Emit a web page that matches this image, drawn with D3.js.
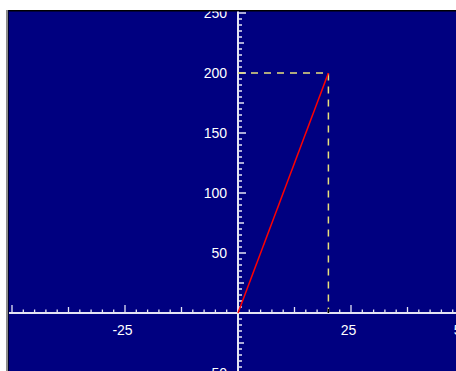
<!DOCTYPE html>
<html><head><meta charset="utf-8">
<script src="https://cdn.jsdelivr.net/npm/d3@7"></script>
<style>html,body{margin:0;padding:0;background:#fff;overflow:hidden}</style>
</head><body>
<script>
// Data
const linePoints = [[0, 0], [20, 200]];
const guidePoints = [[0, 200], [20, 200], [20, 0]];
const xTickLabels = [-25, 25, 50];
const yTickLabels = [50, 100, 150, 200, 250, -50];

const W = 456, H = 371;
const svg = d3.select("body").append("svg").attr("width", W).attr("height", H);

svg.append("defs").append("clipPath").attr("id", "plotclip")
  .append("rect").attr("x", 9).attr("y", 11.5).attr("width", W).attr("height", H);

// frame
svg.append("rect").attr("x", 0).attr("y", 0).attr("width", W).attr("height", H).attr("fill", "#fff");
svg.append("rect").attr("x", 6).attr("y", 10).attr("width", 2).attr("height", H).attr("fill", "#8c8c8c");
svg.append("rect").attr("x", 8).attr("y", 10).attr("width", W).attr("height", H).attr("fill", "#000080");
svg.append("rect").attr("x", 8).attr("y", 10).attr("width", W).attr("height", 1.5).attr("fill", "#000000");
svg.append("rect").attr("x", 8).attr("y", 10).attr("width", 1).attr("height", H).attr("fill", "#000030");

const plot = svg.append("g").attr("clip-path", "url(#plotclip)");

// scales
const x = d3.scaleLinear().domain([-51, 50]).range([238 - 51 * 4.52, 238 + 50 * 4.52]);
const y = d3.scaleLinear().domain([-50, 250]).range([313 + 60, 313 - 300]);

const axisColor = "#e4e4f4";
const x0 = x(0), y0 = y(0);

// X axis
const gx = plot.append("g");
gx.append("line").attr("x1", 9).attr("x2", W).attr("y1", y0).attr("y2", y0)
  .attr("stroke", axisColor).attr("stroke-width", 2);
const xTicks = d3.range(-50, 52.5, 2.5);
xTicks.forEach(v => {
  if (v === 0) return;
  const len = (v % 25 === 0) ? 8 : (v % 12.5 === 0 ? 6 : 3.5);
  gx.append("line").attr("x1", x(v)).attr("x2", x(v)).attr("y1", y0).attr("y2", y0 - len)
    .attr("stroke", axisColor).attr("stroke-width", 1.3);
});
gx.selectAll("text").data(xTickLabels).join("text")
  .attr("x", d => x(d) - 2.5).attr("y", y0 + 22)
  .attr("text-anchor", "middle").attr("fill", "#fff")
  .attr("font-family", "Liberation Sans, Arial, sans-serif").attr("font-size", 14)
  .text(d => d);

// Y axis
const gy = plot.append("g");
gy.append("line").attr("x1", x0).attr("x2", x0).attr("y1", 11).attr("y2", H)
  .attr("stroke", axisColor).attr("stroke-width", 2);
const yTicks = d3.range(-50, 255, 5);
yTicks.forEach(v => {
  if (v === 0) return;
  const len = (v % 50 === 0) ? 8 : (v % 25 === 0 ? 6 : 4);
  gy.append("line").attr("x1", x0).attr("x2", x0 + len).attr("y1", y(v)).attr("y2", y(v))
    .attr("stroke", axisColor).attr("stroke-width", 1.3);
});
gy.selectAll("text").data(yTickLabels).join("text")
  .attr("x", x0 - 11).attr("y", d => y(d) + 5)
  .attr("text-anchor", "end").attr("fill", "#fff")
  .attr("font-family", "Liberation Sans, Arial, sans-serif").attr("font-size", 14)
  .text(d => d);

// guide dashed
const lineGen = d3.line().x(d => x(d[0])).y(d => y(d[1]));
plot.append("path").attr("d", lineGen(guidePoints)).attr("fill", "none")
  .attr("stroke", "#e8e07c").attr("stroke-width", 1.5).attr("stroke-dasharray", "7,6");

// marker on x axis
plot.append("line").attr("x1", x(20)).attr("x2", x(20)).attr("y1", y0 - 4).attr("y2", y0)
  .attr("stroke", "#000").attr("stroke-width", 1.5);

// red line
plot.append("path").attr("d", lineGen(linePoints)).attr("fill", "none")
  .attr("stroke", "#ff0000").attr("stroke-width", 1.5);
</script>
</body></html>
